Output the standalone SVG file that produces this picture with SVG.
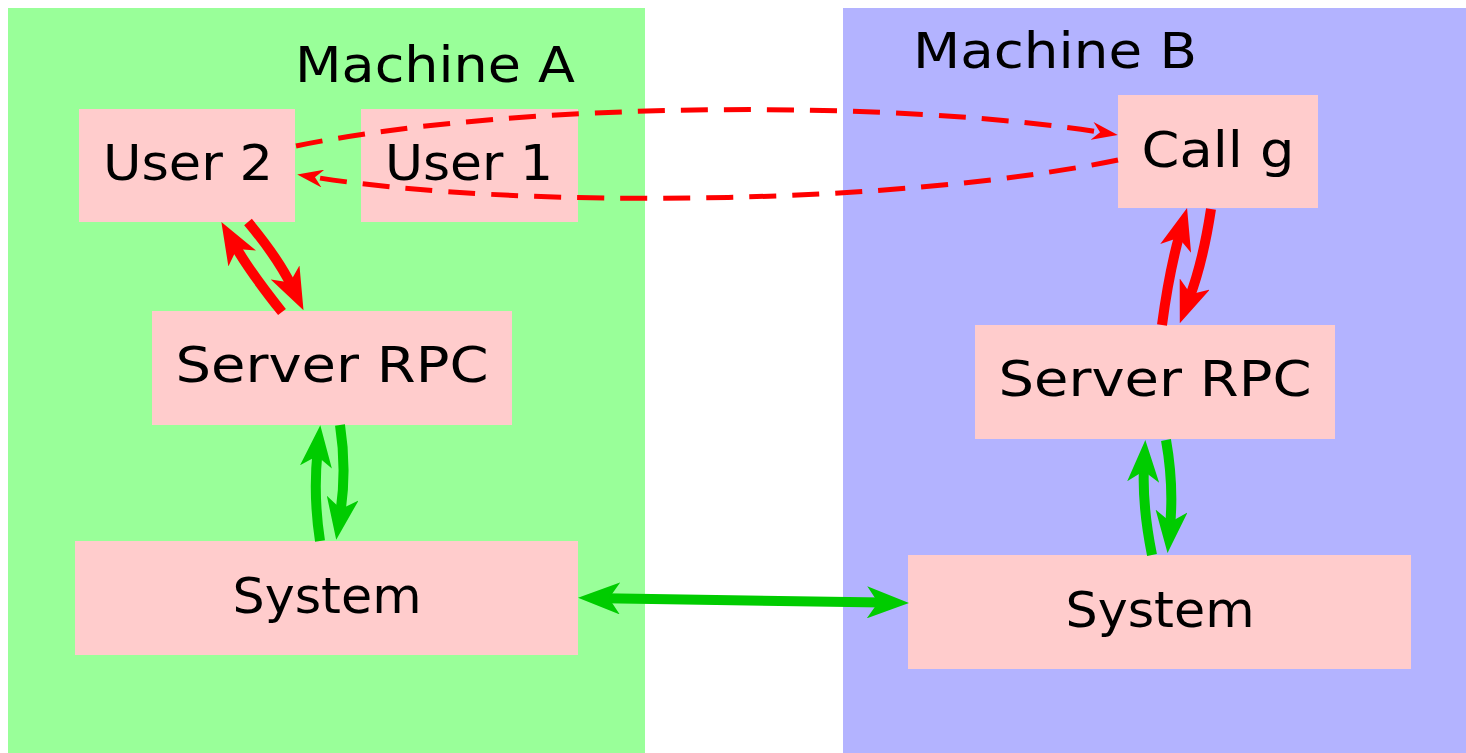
<svg xmlns="http://www.w3.org/2000/svg" width="1466" height="753" viewBox="0 0 1466 753">
<style>
.bg{stroke:none}
.box{fill:#ffcccc;stroke:none}
.lbl{font-family:"DejaVu Sans","Liberation Sans",sans-serif;font-size:50px;fill:#000;text-anchor:middle}
.thickR{fill:none;stroke:#ff0000;stroke-width:10;marker-end:url(#headR)}
.thickG{fill:none;stroke:#00cc00;stroke-width:10;marker-end:url(#headG)}
.dash{fill:none;stroke:#ff0000;stroke-width:5;stroke-dasharray:27 16;marker-end:url(#headT)}
</style>
<defs>
<marker id="headR" viewBox="0 0 42 32" refX="16" refY="16" markerWidth="42" markerHeight="32" markerUnits="userSpaceOnUse" orient="auto">
<path d="M42,16 L0,0 L11,16 L0,32 Z" fill="#ff0000"/>
</marker>
<marker id="headG" viewBox="0 0 42 32" refX="16" refY="16" markerWidth="42" markerHeight="32" markerUnits="userSpaceOnUse" orient="auto-start-reverse">
<path d="M42,16 L0,0 L11,16 L0,32 Z" fill="#00cc00"/>
</marker>
<marker id="headT" viewBox="0 0 26 18" refX="10" refY="9" markerWidth="26" markerHeight="18" markerUnits="userSpaceOnUse" orient="auto">
<path d="M26,9 L0,0 L8,9 L0,18 Z" fill="#ff0000"/>
</marker>
</defs>
<rect width="1466" height="753" fill="#ffffff"/>
<g id="machineA">
<rect class="bg" x="8" y="8" width="637" height="745" fill="#99ff99"/>
<text class="lbl" x="435" y="82" textLength="280" lengthAdjust="spacingAndGlyphs">Machine A</text>
</g>
<g id="machineB">
<rect class="bg" x="843" y="8" width="623" height="745" fill="#b3b3ff"/>
<text class="lbl" x="1055" y="68" textLength="284" lengthAdjust="spacingAndGlyphs">Machine B</text>
</g>
<g id="user2">
<rect class="box" x="79" y="109" width="216" height="113"/>
<text class="lbl" x="188" y="180" textLength="170" lengthAdjust="spacingAndGlyphs">User 2</text>
</g>
<g id="user1">
<rect class="box" x="361" y="109" width="217" height="113"/>
<text class="lbl" x="469" y="180" textLength="168" lengthAdjust="spacingAndGlyphs">User 1</text>
</g>
<g id="callg">
<rect class="box" x="1118" y="95" width="200" height="113"/>
<text class="lbl" x="1218" y="167" textLength="153" lengthAdjust="spacingAndGlyphs">Call g</text>
</g>
<g id="serverA">
<rect class="box" x="152" y="311" width="360" height="114"/>
<text class="lbl" x="332" y="382" textLength="313" lengthAdjust="spacingAndGlyphs">Server RPC</text>
</g>
<g id="serverB">
<rect class="box" x="975" y="325" width="360" height="114"/>
<text class="lbl" x="1155" y="396" textLength="313" lengthAdjust="spacingAndGlyphs">Server RPC</text>
</g>
<g id="systemA">
<rect class="box" x="75" y="541" width="503" height="114"/>
<text class="lbl" x="327" y="613" textLength="189" lengthAdjust="spacingAndGlyphs">System</text>
</g>
<g id="systemB">
<rect class="box" x="908" y="555" width="503" height="114"/>
<text class="lbl" x="1160" y="627" textLength="189" lengthAdjust="spacingAndGlyphs">System</text>
</g>
<g id="connectors">
<path class="dash" d="M296,146 C520,100 900,100 1102,132.5"/>
<path class="dash" d="M1118,160 C900,205 520,210 313,177"/>
<path class="thickR" d="M282,312 Q250,272 234.3,244.6"/>
<path class="thickR" d="M248,222 Q278,258 292.1,286.9"/>
<path class="thickR" d="M1162,325 Q1169,272 1180,233"/>
<path class="thickR" d="M1211,209 Q1203,262 1189,299"/>
<path class="thickG" d="M320,541 Q313,495 317.6,451"/>
<path class="thickG" d="M340,425 Q347,470 340.2,514"/>
<path class="thickG" d="M1152,555 Q1142,505 1144,466"/>
<path class="thickG" d="M1166,440 Q1174,485 1170,527"/>
<path class="thickG" style="marker-start:url(#headG)" d="M604,598.2 L883,602.6"/>
</g>
</svg>
